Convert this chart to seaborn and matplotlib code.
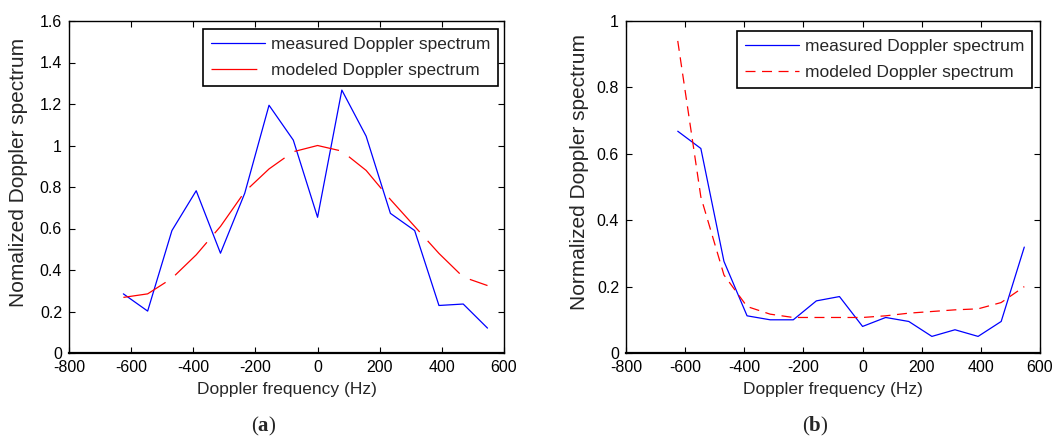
import numpy as np
import pandas as pd
import seaborn as sns
import matplotlib.pyplot as plt

# Doppler frequency bins (Hz)
freq = [-625, -546.875, -468.75, -390.625, -312.5, -234.375, -156.25, -78.125,
        0, 78.125, 156.25, 234.375, 312.5, 390.625, 468.75, 546.875]

# panel (a)
meas_a = [0.285, 0.202, 0.59, 0.782, 0.481, 0.77, 1.194, 1.026,
          0.654, 1.267, 1.045, 0.673, 0.59, 0.229, 0.236, 0.12]
model_a = [0.268, 0.285, 0.36, 0.473, 0.61, 0.777, 0.887, 0.97,
           1.0, 0.973, 0.88, 0.74, 0.61, 0.48, 0.366, 0.325]

# panel (b)
meas_b = [0.668, 0.616, 0.276, 0.112, 0.10, 0.10, 0.157, 0.170,
          0.080, 0.107, 0.095, 0.050, 0.070, 0.050, 0.095, 0.319]
model_b = [0.94, 0.47, 0.235, 0.14, 0.117, 0.107, 0.107, 0.107,
           0.107, 0.112, 0.12, 0.125, 0.13, 0.133, 0.152, 0.2]

xticks = [-800, -600, -400, -200, 0, 200, 400, 600]
ylabels = ["Nomalized Doppler spectrum", "Normalized Doppler spectrum"]

sns.set_style("ticks")
plt.rcParams["font.family"] = ["Liberation Sans", "DejaVu Sans"]
plt.rcParams["axes.unicode_minus"] = False
plt.rcParams["lines.scale_dashes"] = False
plt.rcParams["mathtext.fontset"] = "custom"
plt.rcParams["mathtext.bf"] = "Liberation Serif:bold"

fig = plt.figure(figsize=(10.56, 4.41), dpi=100)
W, H = 1056, 441
ax_a = fig.add_axes([69 / W, 1 - 353 / H, 435 / W, 332 / H])
ax_b = fig.add_axes([626 / W, 1 - 353 / H, 414 / W, 332 / H])

panels = [
    (ax_a, meas_a, model_a, (0, 1.6), np.arange(0, 1.61, 0.2), (0, (33, 8.6)),
     (0.986, 0.976)),
    (ax_b, meas_b, model_b, (0, 1.0), np.arange(0, 1.01, 0.2), (0, (7.2, 4.7)),
     (0.981, 0.970)),
]

for i, (ax, meas, model, ylim, yt, dash, leg_at) in enumerate(panels):
    df = pd.DataFrame({"freq": freq, "measured": meas, "modeled": model})
    sns.lineplot(data=df, x="freq", y="measured", ax=ax, color="#0000ff",
                 lw=0.9, label="measured Doppler spectrum")
    sns.lineplot(data=df, x="freq", y="modeled", ax=ax, color="#ff0000",
                 lw=0.9, linestyle=dash, label="modeled Doppler spectrum")
    ax.set_xlim(-800, 600)
    ax.set_ylim(*ylim)
    ax.set_xticks(xticks)
    ax.set_yticks(yt)
    ax.set_yticklabels(["%g" % round(v, 1) for v in yt])
    ax.tick_params(direction="in", length=4, width=0.8, top=True, right=True,
                   labelsize=11.5, color="black", labelcolor="black")
    ax.tick_params(axis="x", pad=5)
    ax.tick_params(axis="y", pad=5)
    for s in ax.spines.values():
        s.set_visible(True)
        s.set_linewidth(1.0)
        s.set_color("black")
    ax.spines["bottom"].set_linewidth(1.6)

    ax.set_xlabel("Doppler frequency (Hz)", fontsize=12.5)
    ax.xaxis.label.set_va("center")
    ax.xaxis.set_label_coords(0.5, -0.111)
    ax.set_ylabel(ylabels[i], fontsize=15)
    ax.yaxis.label.set_va("center")
    ax.yaxis.set_label_coords(-0.117 if i == 0 else -0.1135, 0.545)

    leg = ax.legend(loc="upper right", bbox_to_anchor=leg_at, borderaxespad=0,
                    fontsize=12.5, fancybox=False, edgecolor="black",
                    framealpha=1, handlelength=3.1, handletextpad=0.35,
                    borderpad=0.45, labelspacing=0.65)
    leg.get_frame().set_linewidth(1.2)

fig.text(264 / W, 1 - 426 / H, r"($\mathbf{a}$)", ha="center", va="center",
         fontsize=15, family="Liberation Serif")
fig.text(815 / W, 1 - 426 / H, r"($\mathbf{b}$)", ha="center", va="center",
         fontsize=15, family="Liberation Serif")

fig.savefig("out.png", dpi=100, facecolor="white")
